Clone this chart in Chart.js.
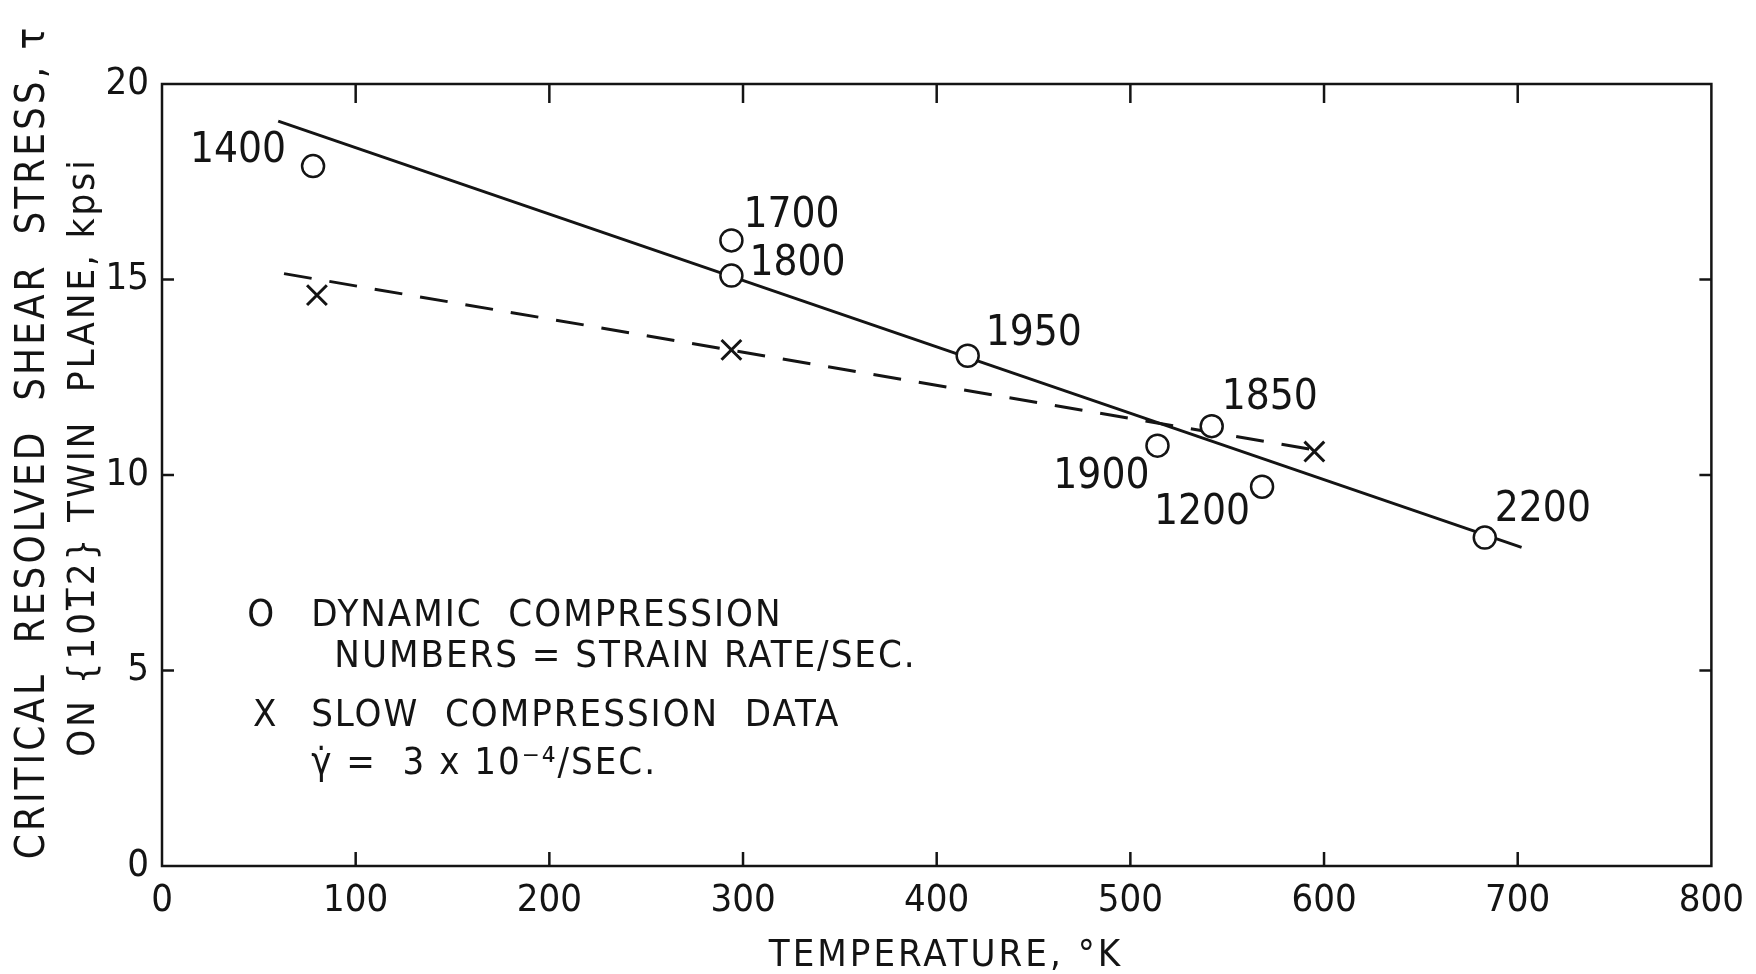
<!DOCTYPE html>
<html>
<head>
<meta charset="utf-8">
<script src="https://cdn.jsdelivr.net/npm/chart.js@4/dist/chart.umd.min.js"></script>
<style>
  html, body { margin: 0; padding: 0; background: #fff; }
  #wrap { width: 1756px; height: 974px; }
</style>
</head>
<body>
<div id="wrap"><canvas id="twinChart" width="1756" height="974"></canvas></div>
<script>
// Data
const xTicks = [0, 100, 200, 300, 400, 500, 600, 700, 800];
const yTicks = [0, 5, 10, 15, 20];

// dynamic compression points (circles), labelled with strain rate /sec
const dynTemp   = [78, 294, 294, 416, 514, 542, 568, 683];
const dynStress = [17.9, 16.0, 15.1, 13.05, 10.75, 11.25, 9.7, 8.4];
const dynRate   = ['1400', '1700', '1800', '1950', '1900', '1850', '1200', '2200'];

// slow compression points (x)
const slowTemp   = [80, 294, 595];
const slowStress = [14.6, 13.2, 10.6];

// fitted lines
const fitDynTemp    = [60, 702];
const fitDynStress  = [19.05, 8.15];
const fitSlowTemp   = [63, 600];
const fitSlowStress = [15.15, 10.6];

const FONT = '"Liberation Sans Narrow", "DejaVu Sans Condensed", "Liberation Sans", sans-serif';
const INK = '#141414';

// label offsets in px from each circle: [dx, dy, align]
const rateLabelPos = [
    [-27, -15, 'right'], [12, -24, 'left'], [18, -11, 'left'], [18, -22, 'left'],
    [-8, 31, 'right'], [10, -28, 'left'], [-12, 26, 'right'], [10, -27, 'left']
];

const toXY = (xs, ys) => xs.map((v, i) => ({ x: v, y: ys[i] }));

function seg(ctx, x1, y1, x2, y2) {
    ctx.beginPath();
    ctx.moveTo(x1, y1);
    ctx.lineTo(x2, y2);
    ctx.stroke();
}

const framePlugin = {
    id: 'frame',
    afterDraw(chart) {
        const { ctx, chartArea: a, scales: { x, y } } = chart;
        ctx.save();
        ctx.strokeStyle = INK;
        ctx.fillStyle = INK;
        ctx.lineWidth = 2.5;
        ctx.strokeRect(a.left, a.top, a.width, a.height);

        // inward tick marks
        xTicks.slice(1, -1).forEach(v => {
            const px = x.getPixelForValue(v);
            seg(ctx, px, a.top, px, a.top + 19);
            seg(ctx, px, a.bottom, px, a.bottom - 14);
        });
        yTicks.slice(1, -1).forEach(v => {
            const py = y.getPixelForValue(v);
            seg(ctx, a.left, py, a.left + 12, py);
            seg(ctx, a.right, py, a.right - 12, py);
        });

        // strain rate labels
        ctx.font = '42px ' + FONT;
        ctx.textBaseline = 'middle';
        dynRate.forEach((txt, i) => {
            const [dx, dy, al] = rateLabelPos[i];
            ctx.textAlign = al;
            ctx.fillText(txt, x.getPixelForValue(dynTemp[i]) + dx, y.getPixelForValue(dynStress[i]) + dy);
        });

        // key text inside the plot
        ctx.font = '38px ' + FONT;
        ctx.textAlign = 'left';
        ctx.letterSpacing = '2px';
        const key = [
            ['O', 44, 6.4],
            ['DYNAMIC  COMPRESSION', 77, 6.4],
            ['NUMBERS = STRAIN RATE/SEC.', 89, 5.34],
            ['X', 47, 3.84],
            ['SLOW  COMPRESSION  DATA', 77, 3.84],
            ['\u03B3\u0307 =  3 x 10\u207B\u2074/SEC.', 77, 2.6]
        ];
        key.forEach(([t, vx, vy]) => ctx.fillText(t, x.getPixelForValue(vx), y.getPixelForValue(vy)));

        // axis titles
        ctx.textAlign = 'center';
        ctx.letterSpacing = '3px';
        ctx.font = '38px ' + FONT;
        ctx.fillText('TEMPERATURE, \u00B0K', 946, 956);

        ctx.save();
        ctx.translate(34, 442);
        ctx.rotate(-Math.PI / 2);
        ctx.font = '40px ' + FONT;
        ctx.fillText('CRITICAL  RESOLVED  SHEAR  STRESS, \u03C4', 0, 0);
        ctx.restore();

        // second title line, with a bar over the third index of {10-12}
        ctx.save();
        ctx.translate(84, 457);
        ctx.rotate(-Math.PI / 2);
        ctx.font = '38px ' + FONT;
        ctx.textAlign = 'left';
        const line2 = 'ON {1012} TWIN  PLANE, kpsi';
        const w = ctx.measureText(line2).width;
        const x0 = -w / 2;
        ctx.fillText(line2, x0, 0);
        const pre = ctx.measureText('ON {10').width;
        const one = ctx.measureText('1').width;
        ctx.lineWidth = 2.5;
        seg(ctx, x0 + pre, -17, x0 + pre + one - 3, -17);
        ctx.restore();

        ctx.restore();
    }
};

const ctx = document.getElementById('twinChart').getContext('2d');
new Chart(ctx, {
    type: 'scatter',
    data: {
        datasets: [
            {
                label: 'Dynamic compression',
                data: toXY(dynTemp, dynStress),
                pointStyle: 'circle',
                pointRadius: 11,
                borderWidth: 2.5,
                borderColor: INK,
                backgroundColor: '#fff',
                order: 1
            },
            {
                label: 'Slow compression',
                data: toXY(slowTemp, slowStress),
                pointStyle: 'crossRot',
                pointRadius: 14,
                borderWidth: 3,
                borderColor: INK,
                order: 1
            },
            {
                type: 'line',
                label: 'Dynamic fit',
                data: toXY(fitDynTemp, fitDynStress),
                borderColor: INK,
                borderWidth: 3,
                pointRadius: 0,
                order: 2
            },
            {
                type: 'line',
                label: 'Slow fit',
                data: toXY(fitSlowTemp, fitSlowStress),
                borderColor: INK,
                borderWidth: 3,
                borderDash: [28, 18],
                pointRadius: 0,
                order: 2
            }
        ]
    },
    options: {
        responsive: false,
        animation: false,
        layout: { padding: { top: 84, right: 39, left: 0, bottom: 0 } },
        plugins: {
            legend: { display: false },
            tooltip: { enabled: false }
        },
        scales: {
            x: {
                type: 'linear',
                min: 0,
                max: 800,
                afterFit: s => { s.height = 108; },
                afterBuildTicks: s => { s.ticks = xTicks.map(v => ({ value: v })); },
                grid: { display: false, drawTicks: false },
                border: { display: false },
                ticks: { color: INK, padding: 12, font: { size: 38, family: FONT } }
            },
            y: {
                min: 0,
                max: 20,
                afterFit: s => { s.width = 162; },
                afterBuildTicks: s => { s.ticks = yTicks.map(v => ({ value: v })); },
                grid: { display: false, drawTicks: false },
                border: { display: false },
                ticks: { color: INK, padding: 13, font: { size: 38, family: FONT } }
            }
        }
    },
    plugins: [framePlugin]
});
</script>
</body>
</html>
